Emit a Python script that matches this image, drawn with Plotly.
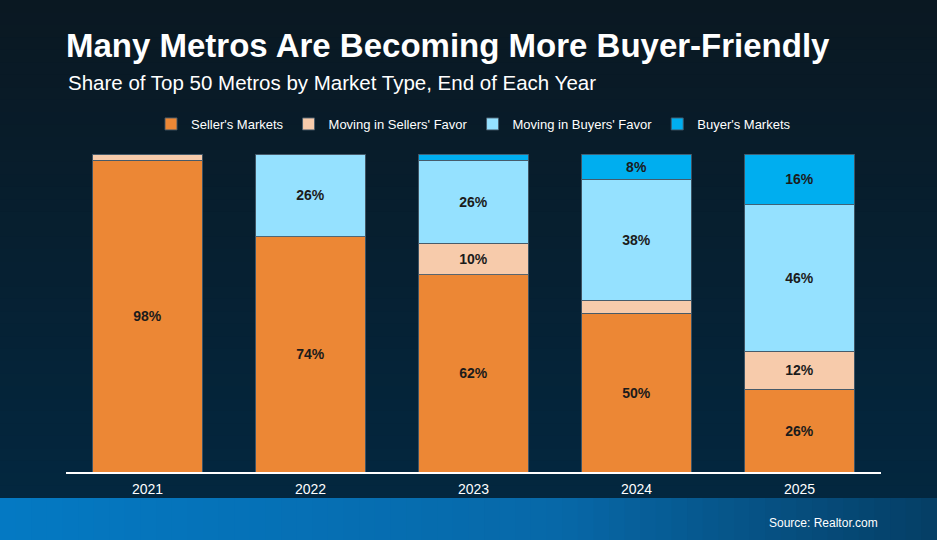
import plotly.graph_objects as go

years = ["2021", "2022", "2023", "2024", "2025"]
sellers_markets = [98, 74, 62, 50, 26]
moving_sellers = [2, 0, 10, 4, 12]
moving_buyers = [0, 26, 26, 38, 46]
buyers_markets = [0, 0, 2, 8, 16]

series = [
    ("Seller's Markets", sellers_markets, "#EC8735"),
    ("Moving in Sellers' Favor", moving_sellers, "#F7CBAB"),
    ("Moving in Buyers' Favor", moving_buyers, "#95E1FF"),
    ("Buyer's Markets", buyers_markets, "#00AEEF"),
]

W, H = 937, 540
L, R, T, B = 66, 56, 154, 68
plot_h = H - T - B
plot_w = W - L - R


def py(pix):
    # pixel row -> paper y
    return (H - B - pix) / plot_h


def px(pix):
    return (pix - L) / plot_w


def mix(c1, c2, t):
    a = [int(c1[i:i + 2], 16) for i in (1, 3, 5)]
    b = [int(c2[i:i + 2], 16) for i in (1, 3, 5)]
    return "#%02x%02x%02x" % tuple(round(a[k] + (b[k] - a[k]) * t) for k in range(3))


fig = go.Figure()
for name, vals, col in series:
    fig.add_trace(go.Bar(
        name=name, x=years, y=vals,
        marker=dict(color=col, line=dict(color="rgba(70,90,105,0.9)", width=1)),
        text=[f"{v}%" if v >= 8 else "" for v in vals],
        textposition="inside", insidetextanchor="middle",
        textfont=dict(family="Liberation Sans", size=14, color="#1b1b1b", weight="bold"),
        hoverinfo="skip",
    ))

shapes = []
# dark background, vertical gradient
n = 40
band_top = 498
for i in range(n):
    y0 = band_top * i / n
    y1 = min(band_top * (i + 1) / n + 2, band_top)
    shapes.append(dict(type="rect", xref="paper", yref="paper", layer="below",
                       x0=px(-2), x1=px(W + 2), y0=py(y1), y1=py(y0), line_width=0,
                       fillcolor=mix("#0a1822", "#03273f", i / (n - 1))))
# bottom blue band, horizontal gradient
m = 60
for i in range(m):
    x0 = W * i / m
    x1 = W * (i + 1) / m + 2
    t = i / (m - 1)
    c = mix("#0479c3", "#0768a8", t / 0.6) if t < 0.6 else mix("#0768a8", "#053f66", (t - 0.6) / 0.4)
    shapes.append(dict(type="rect", xref="paper", yref="paper", layer="below",
                       x0=px(x0), x1=px(x1), y0=py(H + 2), y1=py(band_top), line_width=0,
                       fillcolor=c))

fig.update_layout(
    width=W, height=H,
    margin=dict(l=L, r=R, t=T, b=B),
    barmode="stack", bargap=0.33,
    paper_bgcolor="#061f33", plot_bgcolor="rgba(0,0,0,0)",
    font=dict(family="Liberation Sans", color="white"),
    title=dict(text="<b>Many Metros Are Becoming More Buyer-Friendly</b>",
               xref="paper", x=0, xanchor="left",
               yref="container", y=1 - 45 / H, yanchor="middle",
               font=dict(size=33, color="white")),
    showlegend=True,
    legend=dict(orientation="h", x=0.5, xanchor="center", y=py(124), yanchor="middle",
                font=dict(size=13, color="white"), bgcolor="rgba(0,0,0,0)",
                traceorder="normal", itemwidth=30),
    xaxis=dict(showline=True, linecolor="white", linewidth=2, ticks="",
               tickfont=dict(size=14, color="white"), showgrid=False,
               ticklabelstandoff=3),
    yaxis=dict(range=[0, 100], visible=False, showgrid=False),
    shapes=shapes,
    annotations=[
        dict(text="Share of Top 50 Metros by Market Type, End of Each Year",
             xref="paper", yref="paper", x=0, y=py(82), xanchor="left", yanchor="middle",
             showarrow=False, font=dict(size=20.5, color="white")),
        dict(text="Source: Realtor.com",
             xref="paper", yref="paper", x=px(880), y=py(523), xanchor="right", yanchor="middle",
             showarrow=False, font=dict(size=12, color="white")),
    ],
)

fig.write_html("out.html", config={"displayModeBar": False},
               post_script="document.body.style.margin='0';")
